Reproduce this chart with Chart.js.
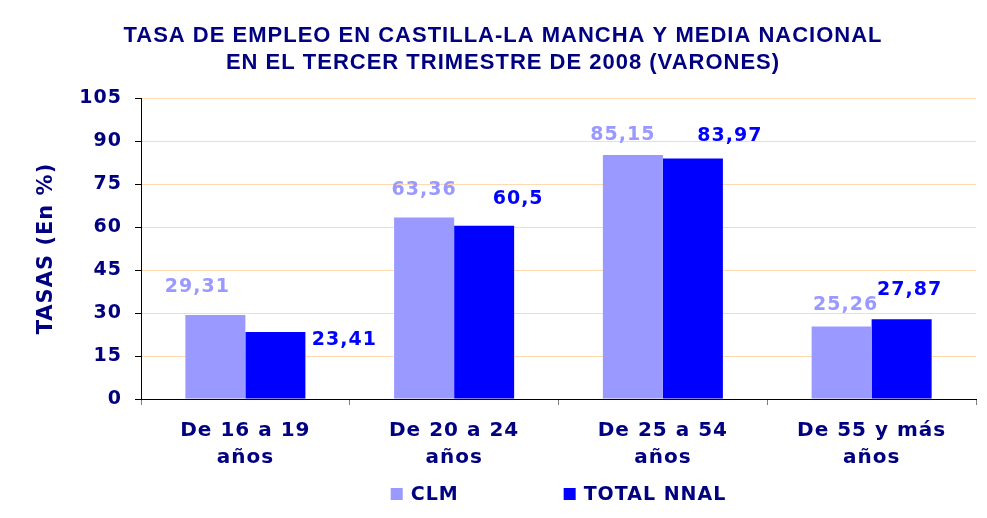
<!DOCTYPE html>
<html>
<head>
<meta charset="utf-8">
<script src="https://cdn.jsdelivr.net/npm/chart.js@4"></script>
<style>
  html, body { margin: 0; padding: 0; background: #fff; }
  #wrap { width: 987px; height: 518px; }
</style>
</head>
<body>
<div id="wrap"><canvas id="myChart" width="987" height="518"></canvas></div>
<script>
const categories = [['De 16 a 19', 'años'], ['De 20 a 24', 'años'], ['De 25 a 54', 'años'], ['De 55 y más', 'años']];
const clmValues = [29.31, 63.36, 85.15, 25.26];
const nnalValues = [23.41, 60.5, 83.97, 27.87];
const yTicks = [0, 15, 30, 45, 60, 75, 90, 105];

const navy = '#000080';
const fontFamily = '"DejaVu Sans"';

// label nudges copied from the original layout (dx, dy from the bar top centre)
const labelNudge = [
    [[-18, -28], [0, -27], [-10, -20], [4, -22]],
    [[69, 8], [34, -27], [37, -22], [8, -29]]
];

// the original text is a bit wider than DejaVu, so space the letters out
const spacing = {
    id: 'spacing',
    beforeUpdate(chart) { chart.ctx.letterSpacing = '1px'; },
    beforeLayout(chart) { chart.ctx.letterSpacing = '1px'; },
    beforeDraw(chart) { chart.ctx.letterSpacing = '1px'; }
};

const valueLabels = {
    id: 'valueLabels',
    afterDatasetsDraw(chart) {
        const ctx = chart.ctx;
        ctx.save();
        ctx.font = 'bold 19px ' + fontFamily;
        ctx.textAlign = 'center';
        ctx.textBaseline = 'middle';
        chart.data.datasets.forEach((ds, i) => {
            const meta = chart.getDatasetMeta(i);
            ctx.fillStyle = ds.backgroundColor;
            meta.data.forEach((bar, j) => {
                const txt = String(ds.data[j]).replace('.', ',');
                const n = labelNudge[i][j];
                ctx.fillText(txt, bar.x + n[0], bar.y + n[1]);
            });
        });
        ctx.restore();
    }
};

// legend drawn by hand so the wide gap between items does not push the plot up
const bottomLegend = {
    id: 'bottomLegend',
    afterDraw(chart) {
        const ctx = chart.ctx;
        const area = chart.chartArea;
        const box = 12, gapBox = 8, gapItems = 105;
        ctx.save();
        ctx.font = 'bold 19px ' + fontFamily;
        ctx.textBaseline = 'middle';
        const items = chart.data.datasets.map(ds => ({
            text: ds.label,
            color: ds.backgroundColor,
            w: box + gapBox + ctx.measureText(ds.label).width
        }));
        const total = items.reduce((s, it) => s + it.w, 0) + gapItems * (items.length - 1);
        let x = (area.left + area.right) / 2 - total / 2;
        const y = 494;
        items.forEach(it => {
            ctx.fillStyle = it.color;
            ctx.fillRect(x, y - box / 2, box, box);
            ctx.fillStyle = navy;
            ctx.fillText(it.text, x + box + gapBox, y + 1);
            x += it.w + gapItems;
        });
        ctx.restore();
    }
};

const chart = document.querySelector('#myChart');
const myChart = new Chart(chart, {
    type: 'bar',
    data: {
        labels: categories,
        datasets: [{
            label: 'CLM',
            data: clmValues,
            backgroundColor: '#9999FF',
            borderWidth: 0
        }, {
            label: 'TOTAL NNAL',
            data: nnalValues,
            backgroundColor: '#0000FF',
            borderWidth: 0
        }]
    },
    options: {
        responsive: false,
        animation: false,
        layout: { padding: { left: 30, right: 11, top: 0, bottom: 0 } },
        datasets: {
            bar: { categoryPercentage: 0.575, barPercentage: 1 }
        },
        plugins: {
            title: {
                display: true,
                text: ['TASA DE EMPLEO EN CASTILLA-LA MANCHA Y MEDIA NACIONAL', 'EN EL TERCER TRIMESTRE DE 2008 (VARONES)'],
                color: navy,
                font: { family: '"Liberation Sans", Arial', size: 22, weight: 'bold', lineHeight: 1.23 },
                padding: { top: 22, bottom: 22 }
            },
            legend: { display: false },
            tooltip: { enabled: false }
        },
        scales: {
            x: {
                grid: {
                    drawOnChartArea: false,
                    drawTicks: true,
                    tickLength: 6,
                    tickColor: '#808080',
                    offset: true
                },
                border: { color: '#000', width: 1 },
                ticks: {
                    color: navy,
                    font: { family: fontFamily, size: 20, weight: 'bold', lineHeight: 1.35 },
                    padding: 12,
                    maxRotation: 0
                },
                afterFit: (axis) => { axis.height = 119; }
            },
            y: {
                min: 0,
                max: 105,
                afterBuildTicks: (axis) => { axis.ticks = yTicks.map(v => ({ value: v })); },
                grid: {
                    color: '#FFD9B0',
                    tickColor: '#000',
                    tickLength: 6,
                    lineWidth: 1
                },
                border: { color: '#000', width: 1 },
                ticks: {
                    color: navy,
                    font: { family: fontFamily, size: 19, weight: 'bold' },
                    padding: 13
                },
                title: {
                    display: true,
                    text: 'TASAS (En %)',
                    color: navy,
                    font: { family: fontFamily, size: 21, weight: 'bold' },
                    padding: { bottom: 14 }
                },
                afterFit: (axis) => { axis.width = 111; }
            }
        }
    },
    plugins: [spacing, valueLabels, bottomLegend]
});
</script>
</body>
</html>
